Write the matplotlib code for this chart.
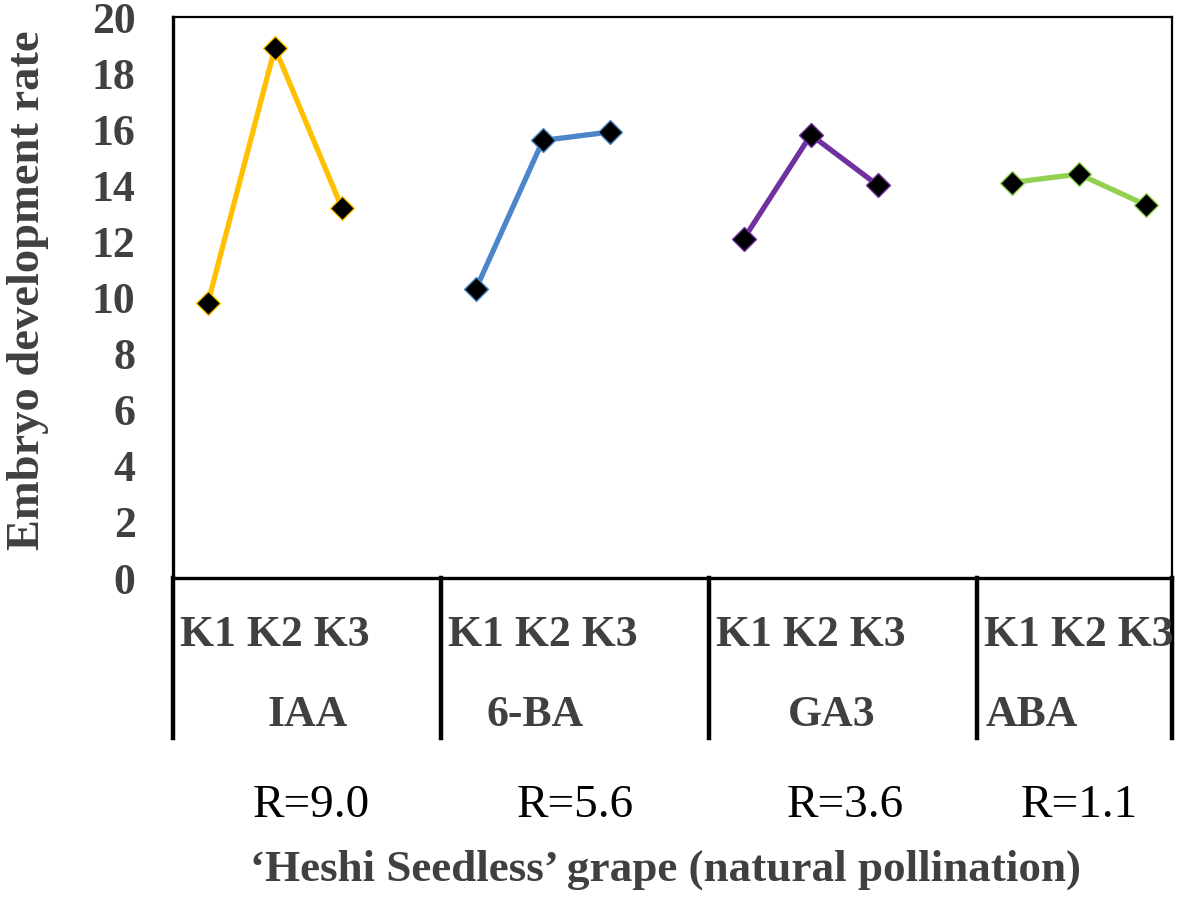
import matplotlib
matplotlib.use("Agg")
import matplotlib.pyplot as plt
import matplotlib.transforms as mtransforms

# data
hormones = ["IAA", "6-BA", "GA3", "ABA"]
levels = ["K1", "K2", "K3"]
iaa = [9.8, 18.9, 13.2]
ba6 = [10.3, 15.6, 15.9]
ga3 = [12.1, 15.8, 14.0]
aba = [14.1, 14.4, 13.3]
r_labels = ["R=9.0", "R=5.6", "R=3.6", "R=1.1"]
colores = ["#FFC000", "#4A86C8", "#7030A0", "#92D050"]

series = [iaa, ba6, ga3, aba]
grey = "#404040"
serif = ["Liberation Serif", "DejaVu Serif"]

fig = plt.figure(figsize=(11.81, 9.19), dpi=100)
ax = fig.add_axes([0.1465, 0.371, 0.9924 - 0.1465, 0.9815 - 0.371])

ancho = 4  # cada grupo ocupa 4 unidades en x, el ultimo queda recortado
for g, vals in enumerate(series):
    xs = [g * ancho + 0.52 + k for k in range(len(levels))]
    ax.plot(xs, vals, color=colores[g], lw=3.8, marker="D", ms=12.5,
            mfc="black", mec=colores[g], mew=1.0, zorder=3)

xmax = 14.91
ax.set_xlim(0, xmax)
ax.set_ylim(0, 20)
ax.set_yticks(range(0, 21, 2))
ax.set_xticks([])
ax.tick_params(axis="y", length=0, pad=27)
for lab in ax.get_yticklabels():
    lab.set_fontfamily(serif)
    lab.set_fontweight("bold")
    lab.set_fontsize(31.5)
    lab.set_color(grey)

for s in ["top", "right"]:
    ax.spines[s].set_linewidth(1.6)
for s in ["left", "bottom"]:
    ax.spines[s].set_linewidth(2.4)

# lineas separadoras debajo del eje
trans = mtransforms.blended_transform_factory(ax.transData, ax.transAxes)
for xsep in [g * ancho for g in range(len(hormones))] + [xmax]:
    ax.plot([xsep, xsep], [0, -0.285], color="black", lw=3.2,
            transform=trans, clip_on=False)

grupo_x = [2.01, 5.4, 9.83, 12.82]
r_x = [2.06, 6.01, 10.04, 13.52]
for g, h in enumerate(hormones):
    ax.text(g * ancho + 0.1, -0.102, " ".join(levels), transform=trans,
            ha="left", va="center", fontsize=31.5, fontweight="bold",
            family=serif, color=grey)
    ax.text(grupo_x[g], -0.244, h, transform=trans, ha="center", va="center",
            fontsize=31.5, fontweight="bold", family=serif, color=grey)
    ax.text(r_x[g], -0.405, r_labels[g], transform=trans, ha="center",
            va="center", fontsize=34, family=serif, color="black")

ax.text(0.493, -0.52, "\u2018Heshi Seedless\u2019 grape (natural pollination)",
        transform=ax.transAxes, ha="center", va="center", fontsize=32.5,
        fontweight="bold", family=serif, color=grey)

fig.text(28 / 1181, 1 - 290 / 919, "Embryo development rate", rotation=90,
         ha="center", va="center", fontsize=33.5, fontweight="bold",
         family=serif, color=grey)

fig.savefig("out.png", dpi=100)
